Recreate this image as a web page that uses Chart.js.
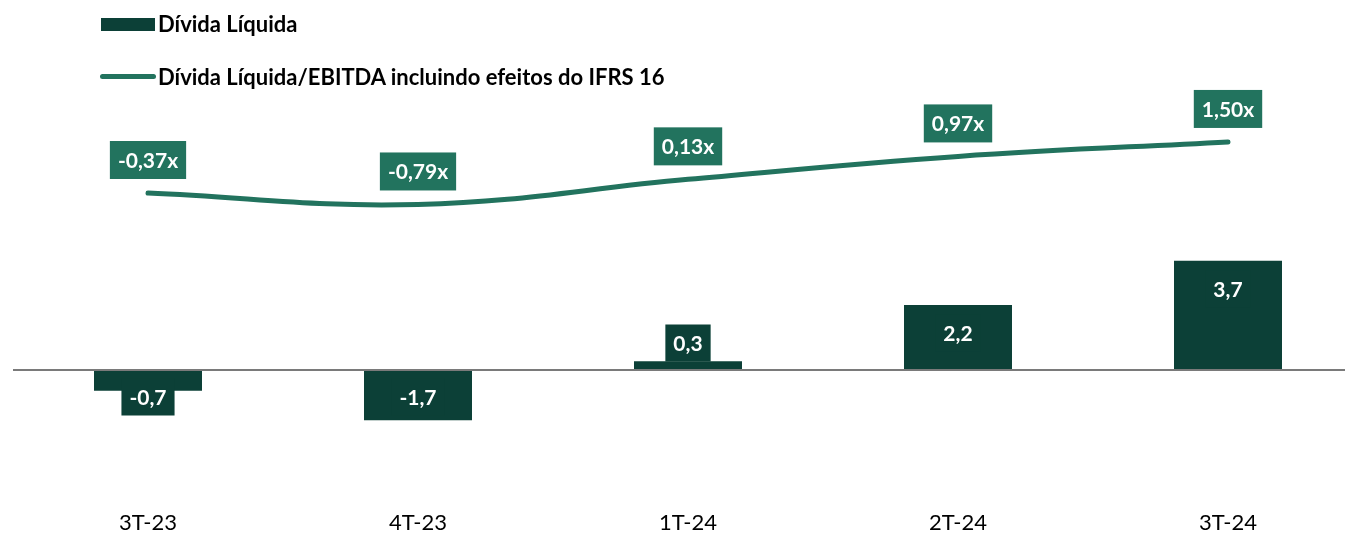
<!DOCTYPE html>
<html>
<head>
<meta charset="utf-8">
<script src="https://cdn.jsdelivr.net/npm/chart.js@4/dist/chart.umd.min.js"></script>
<style>
  html, body { margin:0; padding:0; overflow:hidden; background:#fff; width:1345px; height:533px; }
  #wrap { position:absolute; left:0; top:0; width:1376px; height:533px; }
  #legend { position:absolute; left:0; top:0; width:1000px; height:100px; font-family:Lato, sans-serif; font-weight:bold; font-size:22px; color:#000; }
  .lg-sw { position:absolute; }
  .lg-tx { position:absolute; line-height:26px; white-space:nowrap; }
</style>
</head>
<body>
<div id="wrap"><canvas id="c" width="1376" height="533"></canvas></div>
<div id="legend"></div>
<script>
// ---- data ----
const categories = ['3T-23', '4T-23', '1T-24', '2T-24', '3T-24'];
const netDebt = [-0.7, -1.7, 0.3, 2.2, 3.7];
const leverage = [-0.37, -0.79, 0.13, 0.97, 1.50];
const seriesNames = ['Dívida Líquida', 'Dívida Líquida/EBITDA incluindo efeitos do IFRS 16'];

const BAR = '#0C4037';
const LINE = '#22735E';
const FONT = 'Lato, sans-serif';

function fmt(v, d) { return v.toFixed(d).replace('.', ','); }

const labelPlugin = {
  id: 'boxLabels',
  afterDatasetsDraw(chart) {
    const ctx = chart.ctx;
    const yS = chart.scales.y;
    const area = chart.chartArea;
    const zero = yS.getPixelForValue(0);
    ctx.save();
    // zero axis line
    ctx.strokeStyle = '#7a7a7a';
    ctx.lineWidth = 2;
    ctx.beginPath();
    ctx.moveTo(area.left, zero);
    ctx.lineTo(area.right, zero);
    ctx.stroke();

    ctx.font = 'bold 21px ' + FONT;
    ctx.textAlign = 'center';
    ctx.textBaseline = 'middle';
    // bar labels
    chart.getDatasetMeta(0).data.forEach((el, i) => {
      const v = netDebt[i];
      const txt = fmt(v, 1);
      let cy;
      if (v >= 0) cy = Math.min(el.y + 28, zero - 27);
      else cy = Math.max(el.y - 28, zero + 27);
      const w = ctx.measureText(txt).width + 16;
      ctx.fillStyle = BAR;
      ctx.fillRect(el.x - w / 2, cy - 18.5, w, 37);
      ctx.fillStyle = '#fff';
      ctx.fillText(txt, el.x, cy + 1);
    });
    // line labels
    chart.getDatasetMeta(1).data.forEach((el, i) => {
      const txt = fmt(leverage[i], 2) + 'x';
      const cy = el.y - 33;
      const w = ctx.measureText(txt).width + 16;
      ctx.fillStyle = LINE;
      ctx.fillRect(el.x - w / 2, cy - 19, w, 38);
      ctx.fillStyle = '#fff';
      ctx.fillText(txt, el.x, cy + 1);
    });
    ctx.restore();
  }
};

const chart = new Chart(document.getElementById('c'), {
  data: {
    labels: categories,
    datasets: [
      {
        type: 'bar',
        label: seriesNames[0],
        data: netDebt,
        backgroundColor: BAR,
        borderWidth: 0,
        barPercentage: 0.4,
        categoryPercentage: 1.0,
        yAxisID: 'y',
        order: 2
      },
      {
        type: 'line',
        label: seriesNames[1],
        data: leverage,
        borderColor: LINE,
        backgroundColor: LINE,
        borderWidth: 5,
        borderCapStyle: 'round',
        pointRadius: 0,
        tension: 0.4,
        yAxisID: 'y2',
        order: 1
      }
    ]
  },
  options: {
    responsive: false,
    animation: false,
    layout: { padding: { top: 100, left: 13, right: 13, bottom: 0 } },
    plugins: { legend: { display: false }, tooltip: { enabled: false } },
    scales: {
      x: {
        offset: true,
        grid: { display: false },
        border: { display: false },
        ticks: { font: { family: FONT, size: 22 }, color: '#000', padding: 12, maxRotation: 0 },
        afterFit: (s) => { s.height = 43; }
      },
      y: { display: false, min: -4.0678, max: 9.1525 },
      y2: { display: false, min: -11.249, max: 3.0366 }
    }
  },
  plugins: [labelPlugin]
});

// HTML legend built from chart datasets
const lg = document.getElementById('legend');
const rows = [{ cy: 24 }, { cy: 77 }];
chart.data.datasets.forEach((ds, i) => {
  const sw = document.createElement('div');
  sw.className = 'lg-sw';
  if (ds.type === 'bar') {
    sw.style.cssText = `left:101px;top:${rows[i].cy - 6}px;width:54px;height:13px;background:${ds.backgroundColor};`;
  } else {
    sw.style.cssText = `left:100px;top:${rows[i].cy - 3}px;width:56px;height:5px;border-radius:3px;background:${ds.borderColor};`;
  }
  const tx = document.createElement('div');
  tx.className = 'lg-tx';
  tx.textContent = ds.label;
  tx.style.left = '158px';
  tx.style.top = (rows[i].cy - 13) + 'px';
  lg.appendChild(sw);
  lg.appendChild(tx);
});
</script>
</body>
</html>
